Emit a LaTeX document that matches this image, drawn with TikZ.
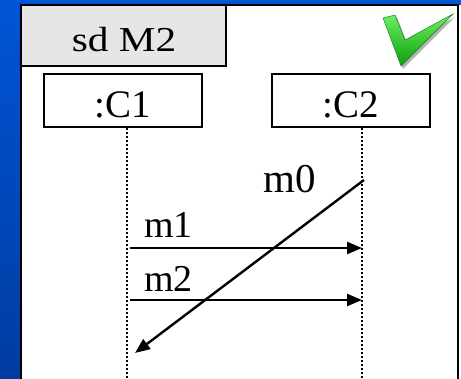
\documentclass[tikz,border=0pt]{standalone}
\usepackage{fontspec}
\setmainfont{Liberation Serif}
\usetikzlibrary{arrows.meta}
\tikzset{
  objbox/.style={draw=black, line width=2.5pt, fill=white, minimum width=158pt, minimum height=53pt, inner sep=0pt},
  objtext/.style={font=\fontsize{39}{41}\selectfont, anchor=base, inner sep=0pt},
  msgtext/.style={font=\fontsize{38}{40}\selectfont, anchor=base west, inner sep=0pt},
  lifeline/.style={line width=2.4pt, dash pattern=on 2pt off 2pt},
  msg/.style={line width=2.4pt, -{Triangle[length=15pt,width=12pt]}},
}
\begin{document}
\begin{tikzpicture}[x=1pt,y=-1pt]
\useasboundingbox (0,0) rectangle (461,379);
% blue background
\shade[top color={rgb,255:red,0;green,84;blue,214}, bottom color={rgb,255:red,0;green,60;blue,160}] (0,0) rectangle (461,379);
% frame
\fill[white] (21,5) rectangle (461,390);
\draw[line width=2.5pt] (21,390) -- (21,5) -- (458,5) -- (458,390);
% tab
\draw[line width=2.5pt, fill={rgb,255:red,230;green,230;blue,230}] (21,5) rectangle (226,66);
\node[font=\fontsize{35}{37}\selectfont, anchor=base, inner sep=0pt, xscale=1.18] (title) at (124,52) {sd M2};
% check mark
\fill[black!60, opacity=0.5] (385,20) -- (397,17) -- (407,43) -- (455,17) -- (403,69) -- cycle;
\shade[top color={rgb,255:red,110;green,240;blue,100}, bottom color={rgb,255:red,10;green,160;blue,10}, draw={rgb,255:red,20;green,120;blue,20}]
  (383,18) -- (395,15) -- (405,40) -- (453,14) -- (401,66) -- cycle;
% objects
\node[objbox] (c1) at (123,100.5) {};
\node[objbox] (c2) at (351,100.5) {};
\node[objtext] (c1t) at (123,118) {:C1};
\node[objtext] (c2t) at (351,118) {:C2};
% lifelines
\coordinate (e1) at (127,381);
\coordinate (e2) at (362,381);
\draw[lifeline] (127,128) -- (e1);
\draw[lifeline] (362,128) -- (e2);
% messages
\coordinate (m1s) at (130,248);
\coordinate (m1e) at (362,248);
\coordinate (m2s) at (130,300);
\coordinate (m2e) at (362,300);
\coordinate (m0s) at (364,180);
\coordinate (m0e) at (135,353);
\draw[msg] (m1s) -- (m1e);
\draw[msg] (m2s) -- (m2e);
\draw[msg] (m0s) -- (m0e);
\node[msgtext] (l1) at (144,238) {m1};
\node[msgtext] (l2) at (144,292) {m2};
\node[msgtext, font=\fontsize{41}{43}\selectfont] (l0) at (263,193) {m0};
\end{tikzpicture}
\end{document}
